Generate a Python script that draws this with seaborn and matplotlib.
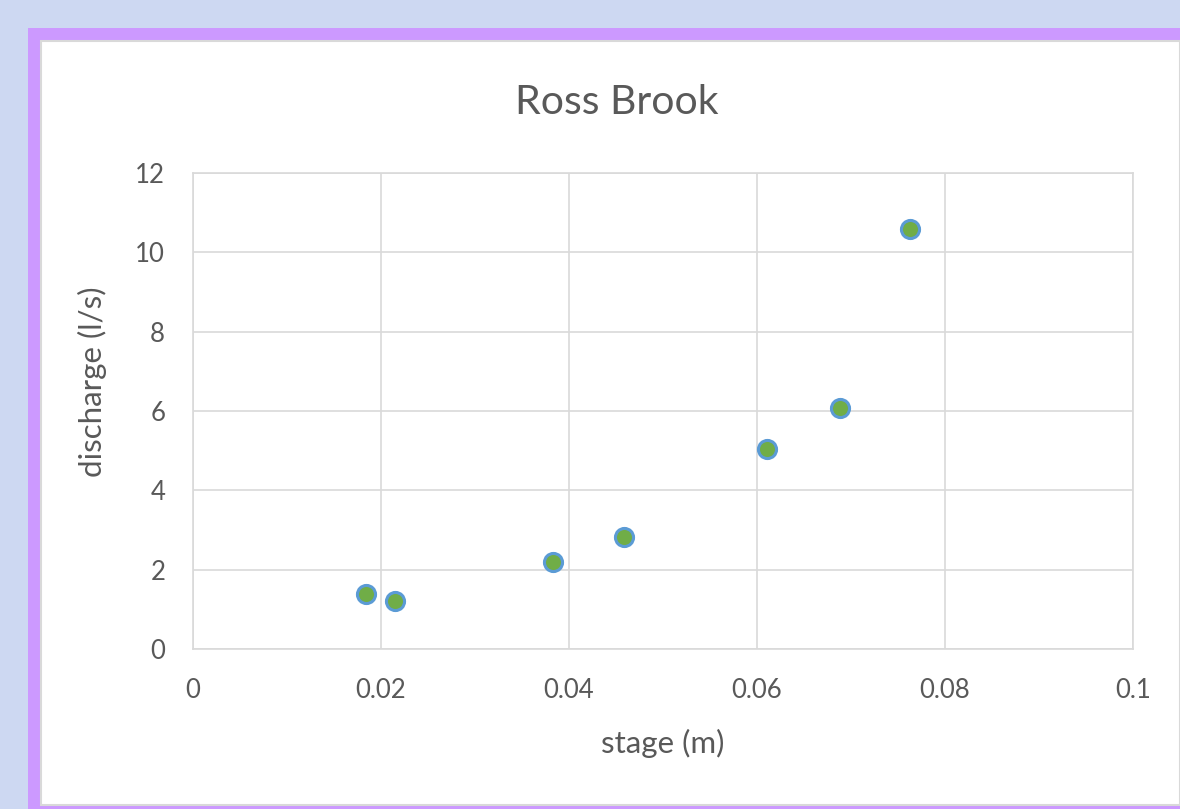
import matplotlib
matplotlib.use('Agg')
import matplotlib.pyplot as plt
import seaborn as sns
import pandas as pd
from matplotlib.patches import Rectangle

# valores
stage = [0.0184, 0.0215, 0.0383, 0.0459, 0.0611, 0.0688, 0.0763]
discharge = [1.39, 1.21, 2.19, 2.82, 5.04, 6.08, 10.59]
x_ticks = [0, 0.02, 0.04, 0.06, 0.08, 0.1]
x_labels = ['0', '0.02', '0.04', '0.06', '0.08', '0.1']
y_ticks = [0, 2, 4, 6, 8, 10, 12]

df = pd.DataFrame({'stage': stage, 'discharge': discharge})

sns.set_style('white')
plt.rcParams['font.family'] = ['Lato', 'DejaVu Sans']

W, H = 1180, 809
fig = plt.figure(figsize=(W / 100, H / 100), dpi=100)
fig.patch.set_facecolor('#cdd8f2')

# moldura roxa e área branca
fig.patches.append(Rectangle((28 / W, 0), 1 - 28 / W, 1 - 28 / H,
                             transform=fig.transFigure, facecolor='#cc99ff',
                             edgecolor='none', zorder=-2))
fig.patches.append(Rectangle((41 / W, 4 / H), 1 - 41 / W, 1 - 45 / H,
                             transform=fig.transFigure, facecolor='white',
                             edgecolor='#d9d9d9', linewidth=1.5, zorder=-1))

ax = fig.add_axes([193 / W, 1 - 649 / H, 940 / W, 476 / H])
ax.set_zorder(2)
ax.set_facecolor('white')

sns.scatterplot(data=df, x='stage', y='discharge', ax=ax, s=170,
                color='#70ad47', edgecolor='#5b9bd5', linewidth=2.2,
                zorder=3, clip_on=False)

ax.set_xlim(0, 0.1)
ax.set_ylim(0, 12)
ax.set_xticks(x_ticks)
ax.set_xticklabels(x_labels)
ax.set_yticks(y_ticks)
ax.grid(True, color='#d9d9d9', linewidth=1.2)
ax.set_axisbelow(True)
for sp in ax.spines.values():
    sp.set_visible(True)
    sp.set_color('#d9d9d9')
    sp.set_linewidth(1.2)

ax.tick_params(axis='both', length=0, labelsize=18.5, colors='#595959')
ax.tick_params(axis='x', pad=21)
ax.tick_params(axis='y', pad=20)

ax.set_xlabel('stage (m)', fontsize=22.5, color='#595959')
ax.set_ylabel('discharge (l/s)', fontsize=22.5, color='#595959')
ax.xaxis.set_label_coords(0.5, -0.168)
ax.yaxis.set_label_coords(-0.0915, 0.561)

fig.text(617 / W, 1 - 102 / H, 'Ross Brook', fontsize=29.5, color='#595959',
         ha='center', va='center')

plt.savefig('out.png', dpi=100)
plt.close()
